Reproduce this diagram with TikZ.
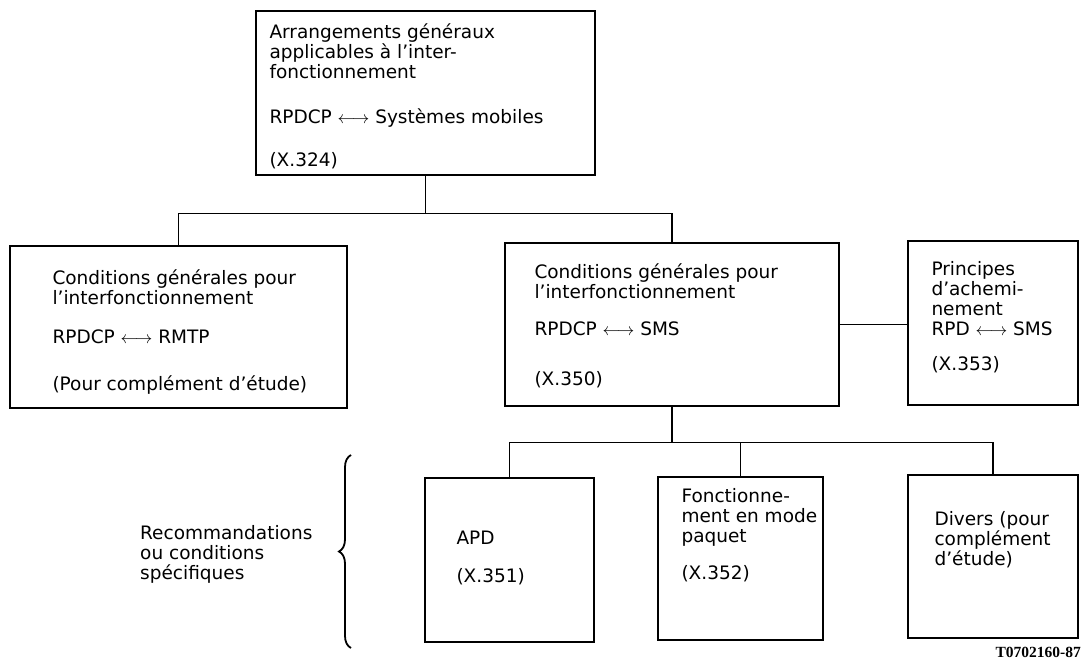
\documentclass[tikz,border=0pt]{standalone}
\usepackage{fontspec}
\setmainfont{DejaVu Sans}
\newfontfamily\reffont{Liberation Serif}
\usetikzlibrary{decorations.pathreplacing}

\tikzset{
  box/.style={draw, line width=1.4pt, inner sep=0pt},
  txt/.style={align=left, inner sep=0pt, anchor=north west, font=\fontsize{18.5}{20}\selectfont},
  link/.style={line width=1.4pt},
}

\begin{document}
\begin{tikzpicture}[x=1pt, y=-1pt]
  \useasboundingbox (0,0) rectangle (1083,661);

  \node[box, minimum width=339pt, minimum height=164pt] (top) at (425.5,93) {};
  \node[box, minimum width=337pt, minimum height=162pt] (left) at (178.5,327) {};
  \node[box, minimum width=334pt, minimum height=163pt] (mid) at (672,324.5) {};
  \node[box, minimum width=170pt, minimum height=164pt] (right) at (993,323) {};
  \node[box, minimum width=169pt, minimum height=164pt] (apd) at (509.5,560) {};
  \node[box, minimum width=165pt, minimum height=163pt] (fonct) at (740.5,558.5) {};
  \node[box, minimum width=170pt, minimum height=163pt] (divers) at (993,556.5) {};

  \node[txt] (toptxt) at ([shift={(14,13)}]top.north west)
    {Arrangements généraux\\applicables à l’inter-\\fonctionnement\\[25pt]RPDCP $\longleftrightarrow$ Systèmes mobiles\\[23pt](X.324)};
  \node[txt] (lefttxt) at ([shift={(43,24)}]left.north west)
    {Conditions générales pour\\l’interfonctionnement\\[19pt]RPDCP $\longleftrightarrow$ RMTP\\[27pt](Pour complément d’étude)};
  \node[txt] (midtxt) at ([shift={(30,21)}]mid.north west)
    {Conditions générales pour\\l’interfonctionnement\\[17pt]RPDCP $\longleftrightarrow$ SMS\\[30pt](X.350)};
  \node[txt] (righttxt) at ([shift={(24,21)}]right.north west)
    {Principes\\d’achemi-\\nement\\RPD $\longleftrightarrow$ SMS\\[15pt](X.353)};
  \node[txt] (apdtxt) at ([shift={(32,54)}]apd.north west) {APD\\[18pt](X.351)};
  \node[txt] (fonctxt) at ([shift={(24,12)}]fonct.north west)
    {Fonctionne-\\ment en mode\\paquet\\[17pt](X.352)};
  \node[txt] (diverstxt) at ([shift={(27,37)}]divers.north west)
    {Divers (pour\\complément\\d’étude)};

  \node[txt] (spec) at (140,525) {Recommandations\\ou conditions\\spécifiques};
  \draw[line width=1.8pt, decorate, decoration={brace, amplitude=12pt}] (351,648) -- (351,455);

  \node[font=\reffont\bfseries\fontsize{15.5}{16}\selectfont, anchor=base east, inner sep=0pt] (ref) at (1081,657) {T0702160-87};

  \draw[link] (top.south) -- ++(0,38) coordinate (upper);
  \draw[link] (left.north) |- (upper) -| (mid.north);
  \draw[link] (mid.east) -- (mid.east -| right.west);
  \draw[link] (mid.south) -- ++(0,36) coordinate (lower);
  \draw[link] (apd.north) |- (lower) -| (divers.north);
  \draw[link] (lower -| fonct.north) -- (fonct.north);

\end{tikzpicture}
\end{document}
